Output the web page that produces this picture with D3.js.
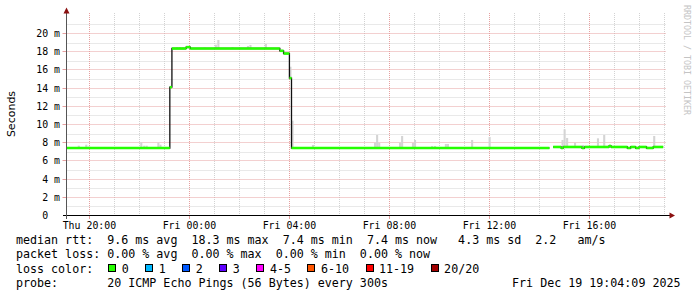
<!DOCTYPE html>
<html><head><meta charset="utf-8">
<script src="https://cdn.jsdelivr.net/npm/d3@7"></script>
<style>
html,body{margin:0;padding:0;background:#fff;}
svg{display:block;}
text{white-space:pre;}
</style></head><body>
<svg id="c" width="697" height="297"></svg>
<script>
// ---------- data ----------
const timeDomain = ["12-18 19:05", "12-19 19:05"];
const tickTimes  = ["12-18 20:00","12-19 00:00","12-19 04:00","12-19 08:00","12-19 12:00","12-19 16:00"];
const tickLabels = ["Thu 20:00","Fri 00:00","Fri 04:00","Fri 08:00","Fri 12:00","Fri 16:00"];
const yTickValues = [0,2,4,6,8,10,12,14,16,18,20];
const yTickLabels = ["0","2","4","6","8","10","12","14","16","18","20"];
const yTickUnit = "m";

// median rtt (ms): value holds from time[i] until time[i+1]; null = no data
const medianTimes = [
  "12-18 19:05","12-18 23:13","12-18 23:18","12-18 23:52","12-19 00:02","12-19 03:37",
  "12-19 03:46","12-19 04:00","12-19 04:05","12-19 14:24","12-19 14:33","12-19 14:52",
  "12-19 14:57","12-19 15:42","12-19 15:48","12-19 16:47","12-19 16:52","12-19 17:31",
  "12-19 17:39","12-19 17:51","12-19 17:59","12-19 18:17","12-19 18:33","12-19 18:57"
];
const medianValues = [
  7.42, 14.1, 18.35, 18.5, 18.35, 18.1,
  17.8, 15.1, 7.42, null, 7.53, 7.42,
  7.53, 7.42, 7.53, 7.64, 7.53, 7.42,
  7.53, 7.42, 7.53, 7.42, 7.53, null
];

// smoke: highest ping seen in a 5-minute step (ms)
const smokeTimes = [
  "12-18 19:32","12-18 19:50","12-18 19:57","12-18 20:18","12-18 20:33","12-18 22:02",
  "12-18 22:09","12-18 22:15","12-18 22:43","12-18 22:48","12-18 23:28","12-18 23:35",
  "12-18 23:42","12-19 00:34","12-19 01:01","12-19 01:07","12-19 01:41","12-19 02:18",
  "12-19 02:24","12-19 03:01","12-19 04:00","12-19 04:05","12-19 04:54","12-19 07:23",
  "12-19 07:28","12-19 07:33","12-19 08:23","12-19 08:28","12-19 08:54","12-19 08:59",
  "12-19 09:40","12-19 09:47","12-19 10:13","12-19 10:18","12-19 11:16","12-19 11:58",
  "12-19 14:53","12-19 14:58","12-19 15:04","12-19 15:23","12-19 15:42","12-19 16:18",
  "12-19 16:33","12-19 18:33","12-19 18:52"
];
const smokeTops = [
  7.67, 7.78, 7.58, 7.53, 7.53, 8.04,
  7.67, 7.67, 8.0, 7.78, 18.48, 18.48,
  18.45, 18.45, 18.77, 19.29, 18.48, 18.63,
  18.74, 18.85, 16.35, 10.42, 7.75, 8.0,
  8.85, 7.97, 8.0, 8.74, 7.97, 8.3,
  7.64, 7.64, 7.86, 7.86, 8.3, 8.63,
  8.3, 9.47, 8.52, 8.0, 7.75, 8.48,
  8.85, 8.74, 7.6
];

const lossLabels = ["0","1","2","3","4-5","6-10","11-19","20/20"];
const lossColors = ["#26ff00","#00b8ff","#0059ff","#5e00ff","#ff00ff","#ff5500","#ff0000","#a10000"];

const legendRtt  = "median rtt:  9.6 ms avg  18.3 ms max  7.4 ms min  7.4 ms now   4.3 ms sd  2.2   am/s";
const legendLoss = "packet loss: 0.00 % avg  0.00 % max  0.00 % min  0.00 % now";
const legendLossTitle = "loss color:";
const legendProbe = "probe:       20 ICMP Echo Pings (56 Bytes) every 300s";
const legendDate  = "Fri Dec 19 19:04:09 2025";
const yAxisTitle = "Seconds";
const watermark = "RRDTOOL / TOBI OETIKER";

// ---------- drawing ----------
const parse = d3.timeParse("%m-%d %H:%M");
const svg = d3.select("#c");
const MONO = "'DejaVu Sans Mono', monospace";

const x = d3.scaleTime().domain(timeDomain.map(parse)).range([66.5, 666.5]);
const y = d3.scaleLinear().domain([0, 20]).range([215.5, 33.5]);
const plotTop = 13, plotBottom = 215.5, plotLeft = 66.5, plotRight = 666.5;

svg.append("rect").attr("width",697).attr("height",297).attr("fill","#fff");

const grid = svg.append("g");
// minor horizontal grid (every 1 ms)
d3.range(1, 23).filter(v => v % 2 === 1 && y(v) >= plotTop).forEach(v => {
  grid.append("line").attr("x1", plotLeft).attr("x2", plotRight)
    .attr("y1", Math.round(y(v)) + 0.5).attr("y2", Math.round(y(v)) + 0.5)
    .attr("stroke", "#d2d2d2").attr("stroke-dasharray", "1,1");
});
// minor vertical grid (every hour)
const [t0, t1] = x.domain();
d3.timeHour.range(t0, t1).forEach(t => {
  const xx = Math.round(x(t) - 0.5) + 0.5;
  grid.append("line").attr("x1", xx).attr("x2", xx).attr("y1", plotTop).attr("y2", plotBottom)
    .attr("stroke", "#d2d2d2").attr("stroke-dasharray", "1,1");
});
// major horizontal grid
yTickValues.filter(v => v > 0).forEach(v => {
  const yy = Math.round(y(v) - 0.5) + 0.5;
  grid.append("line").attr("x1", plotLeft).attr("x2", plotRight).attr("y1", yy).attr("y2", yy)
    .attr("stroke", "#e6a0a0").attr("stroke-dasharray", "1,1");
  grid.append("line").attr("x1", 62.5).attr("x2", plotLeft).attr("y1", yy).attr("y2", yy)
    .attr("stroke", "#e6a0a0");
});
// major vertical grid at labels
tickTimes.map(parse).forEach(t => {
  const xx = Math.round(x(t) - 0.5) + 0.5;
  grid.append("line").attr("x1", xx).attr("x2", xx).attr("y1", plotTop).attr("y2", plotBottom)
    .attr("stroke", "#e6a0a0").attr("stroke-dasharray", "1,1");
  grid.append("line").attr("x1", xx).attr("x2", xx).attr("y1", plotBottom).attr("y2", 219)
    .attr("stroke", "#e6a0a0");
});

// median segments
const med = medianTimes.map((s, i) => ({t: parse(s), v: medianValues[i]}));
function medianAt(t) {
  let v = null;
  for (const m of med) { if (m.t <= t) v = m.v; }
  return v;
}
// smoke
const step = 5 * 60 * 1000;
smokeTimes.forEach((s, i) => {
  const t = parse(s);
  const m = medianAt(t);
  const x0 = x(t), x1 = x(new Date(+t + step));
  svg.append("rect").attr("x", x0).attr("width", x1 - x0)
    .attr("y", y(smokeTops[i])).attr("height", Math.max(0, y(m) - y(smokeTops[i])))
    .attr("fill", "#d4d4d4");
});

// black step line
const pts = [];
for (let i = 0; i < med.length - 1; i++) {
  pts.push([med[i].t, med[i].v]);
  if (med[i].v != null && med[i + 1].v == null) pts.push([med[i + 1].t, med[i].v]);
}
svg.append("path")
  .attr("d", d3.line().defined(d => d[1] != null).x(d => x(d[0])).y(d => y(d[1])).curve(d3.curveStepAfter)(pts))
  .attr("fill", "none").attr("stroke", "#111").attr("stroke-width", 1.3);

// loss-coloured median bars
for (let i = 0; i < med.length - 1; i++) {
  if (med[i].v == null) continue;
  svg.append("line").attr("x1", x(med[i].t)).attr("x2", x(med[i + 1].t))
    .attr("y1", y(med[i].v)).attr("y2", y(med[i].v))
    .attr("stroke", lossColors[0]).attr("stroke-width", 2.6);
}

// axes
svg.append("line").attr("x1", 63).attr("x2", 670).attr("y1", 215.5).attr("y2", 215.5).attr("stroke", "#000");
svg.append("line").attr("x1", 66.5).attr("x2", 66.5).attr("y1", 219).attr("y2", 12).attr("stroke", "#555");
svg.append("path").attr("d", "M63.5,13.5 L69.5,13.5 L66.5,7.5 Z").attr("fill", "#8b1010");
svg.append("path").attr("d", "M669.5,212.5 L669.5,218.5 L675,215.5 Z").attr("fill", "#8b1010");

// y tick labels
yTickValues.forEach((v, i) => {
  svg.append("text").attr("x", 48.2).attr("y", y(v) + 3.5).attr("text-anchor", "end")
    .attr("font-family", MONO).attr("font-size", "9.9px").attr("fill", "#000").text(yTickLabels[i]);
  if (v !== 0) svg.append("text").attr("x", 54.1).attr("y", y(v) + 3.5)
    .attr("font-family", MONO).attr("font-size", "9.9px").attr("fill", "#000").text(yTickUnit);
});
// x tick labels
tickTimes.forEach((s, i) => {
  svg.append("text").attr("x", x(parse(s))).attr("y", 228.5).attr("text-anchor", "middle")
    .attr("font-family", MONO).attr("font-size", "9.9px").attr("fill", "#000").text(tickLabels[i]);
});
// y title
svg.append("text").attr("transform", "translate(14.5,114) rotate(-90)").attr("text-anchor", "middle")
  .attr("font-family", "'DejaVu Sans', sans-serif").attr("font-size", "11px").attr("fill", "#000").text(yAxisTitle);
// watermark
svg.append("text").attr("transform", "translate(684,5) rotate(90)")
  .attr("font-family", MONO).attr("font-size", "8.3px").attr("fill", "#c4c4c4").text(watermark);

// legend
const LF = "11.67px", CW = 7.02, L0 = 16;
const rowsY = [244.3, 258.4, 272.5, 286.6];
function ltext(str, xx, yy, anchor) {
  return svg.append("text").attr("x", xx).attr("y", yy).attr("text-anchor", anchor || "start")
    .attr("font-family", MONO).attr("font-size", LF).attr("fill", "#000").text(str);
}
ltext(legendRtt, L0, rowsY[0]);
ltext(legendLoss, L0, rowsY[1]);
ltext(legendLossTitle, L0, rowsY[2]);
let bx = 108.3;
lossLabels.forEach((lab, i) => {
  svg.append("rect").attr("x", Math.round(bx) + 0.5).attr("y", 264.5).attr("width", 7).attr("height", 7)
    .attr("fill", lossColors[i]).attr("stroke", "#000");
  ltext(lab, bx + 13.5, rowsY[2]);
  bx += lab.length * CW + 30;
});
ltext(legendProbe, L0, rowsY[3]);
ltext(legendDate, 680.5, rowsY[3], "end");
</script>
</body></html>
